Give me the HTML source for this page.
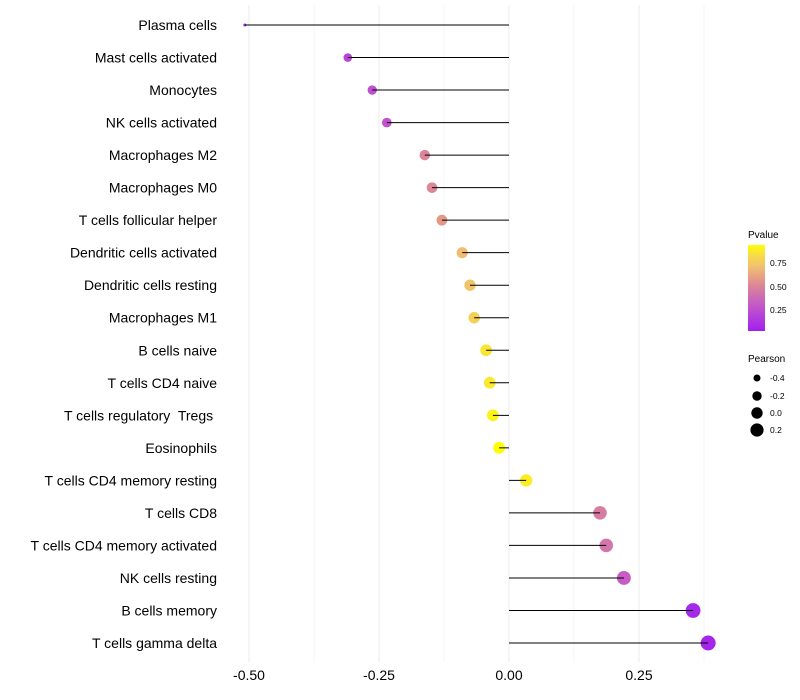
<!DOCTYPE html>
<html><head><meta charset="utf-8"><style>body{margin:0;background:#fff}svg{display:block;font-family:"Liberation Sans",sans-serif}</style></head>
<body>
<svg id="chart" width="800" height="700">
<defs><linearGradient id="pg" x1="0" y1="1" x2="0" y2="0">
<stop offset="0" stop-color="#A020F0"/><stop offset="0.3" stop-color="#C458C8"/><stop offset="0.5" stop-color="#D8809E"/><stop offset="0.6" stop-color="#E49888"/><stop offset="0.75" stop-color="#F0C070"/><stop offset="0.9" stop-color="#F8E040"/><stop offset="1" stop-color="#FFFF00"/></linearGradient></defs>
<g id="grid"></g><g id="marks"></g><g id="labels"></g>
<g font-size="10">
<text x="748" y="238" fill="#000">Pvalue</text>
<rect x="748" y="245" width="17" height="86" fill="url(#pg)"/>
<text x="770" y="266" font-size="8.5">0.75</text><text x="770" y="290" font-size="8.5">0.50</text><text x="770" y="313" font-size="8.5">0.25</text>
</g>
<g font-size="10">
<text x="748" y="362">Pearson</text>
<circle cx="757" cy="378" r="3.5"/><text x="770" y="381" font-size="8.5">-0.4</text>
<circle cx="757" cy="396" r="4.7"/><text x="770" y="399" font-size="8.5">-0.2</text>
<circle cx="757" cy="413" r="5.7"/><text x="770" y="416" font-size="8.5">0.0</text>
<circle cx="757" cy="430" r="6.6"/><text x="770" y="433" font-size="8.5">0.2</text>
</g>
</svg>
<script>
const cells=["Plasma cells","Mast cells activated","Monocytes","NK cells activated","Macrophages M2","Macrophages M0","T cells follicular helper","Dendritic cells activated","Dendritic cells resting","Macrophages M1","B cells naive","T cells CD4 naive","T cells regulatory  Tregs ","Eosinophils","T cells CD4 memory resting","T cells CD8","T cells CD4 memory activated","NK cells resting","B cells memory","T cells gamma delta"];
const pearson=[-0.508,-0.31,-0.263,-0.235,-0.162,-0.148,-0.129,-0.09,-0.075,-0.067,-0.044,-0.037,-0.031,-0.019,0.033,0.175,0.187,0.221,0.354,0.383];
const pvalue=[0.02,0.2,0.25,0.27,0.52,0.53,0.6,0.74,0.77,0.83,0.92,0.93,0.96,1.0,0.94,0.48,0.45,0.32,0.05,0.03];
const ticks=[-0.5,-0.25,0,0.25];
const tickLabels=["-0.50","-0.25","0.00","0.25"];
const ns="http://www.w3.org/2000/svg";
const x=v=>509+v*520;
const y=i=>25+i*(643-25)/19;
function mk(t,a,p){const e=document.createElementNS(ns,t);for(const k in a)e.setAttribute(k,a[k]);p.appendChild(e);return e;}
function lerp(a,b,t){return a.map((v,i)=>Math.round(v+(b[i]-v)*t));}
const stops=[[0,[160,32,240]],[0.3,[196,88,200]],[0.5,[216,128,158]],[0.6,[228,152,136]],[0.75,[240,192,112]],[0.9,[248,224,64]],[1,[255,255,0]]];
function col(p){const t=Math.max(0,Math.min(1,p));for(let i=1;i<stops.length;i++){if(t<=stops[i][0]){const c=lerp(stops[i-1][1],stops[i][1],(t-stops[i-1][0])/(stops[i][0]-stops[i-1][0]));return`rgb(${c})`;}}return"rgb(255,255,0)";}
const rad=v=>1.5+6*Math.sqrt(Math.max(0,(v+0.508)/0.891));
const grid=document.getElementById('grid'),marks=document.getElementById('marks'),labels=document.getElementById('labels');
for(let v=-0.5;v<=0.4;v+=0.125){const gl=mk('line',{x1:x(v),x2:x(v),y1:5,y2:662,stroke:'#ebebeb','stroke-width':Math.abs(v/0.25-Math.round(v/0.25))<1e-6?1:0.5},grid);

}
ticks.forEach((t,i)=>{const tx=mk('text',{x:x(t),y:680,'text-anchor':'middle','font-size':14,fill:'#000'},labels);tx.textContent=tickLabels[i];

});
cells.forEach((c,i)=>{
const d=mk('circle',{cx:x(pearson[i]),cy:y(i),r:rad(pearson[i]),fill:col(pvalue[i])},marks);


const l=mk('line',{x1:x(0),x2:x(pearson[i]),y1:y(i),y2:y(i),stroke:'#000','stroke-width':1},marks);


const t=mk('text',{x:217,y:y(i)+5,'text-anchor':'end','font-size':14,fill:'#000'},labels);t.textContent=c;t.style.whiteSpace='pre';


});
</script>
</body></html>
